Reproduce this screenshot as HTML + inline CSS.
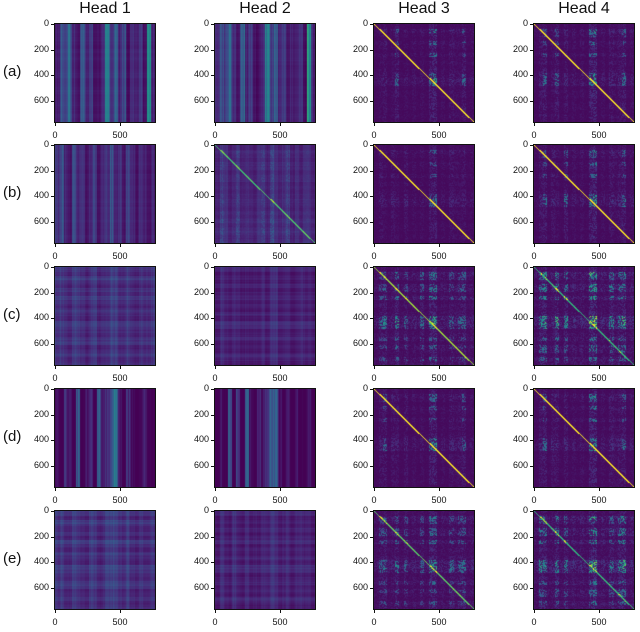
<!DOCTYPE html>
<html><head><meta charset="utf-8">
<style>
body{margin:0;background:#fff;width:640px;height:632px;position:relative;overflow:hidden;font-family:"Liberation Sans",sans-serif}
.t{position:absolute;font-size:16px;color:#111;text-align:center;width:100px}
.rl{position:absolute;font-size:15px;color:#111;left:3px}
.tk{position:absolute;font-size:9px;color:#111}
canvas{position:absolute;outline:1px solid #111}
.tm{position:absolute;background:#111}
</style></head><body>
<div id="root"></div>
<script>
// Each panel: column profile, row profile (24 bins, 0-9), diagonal strength, weights
const colProfiles = [
 [3,5,4,6,3,2,5,3,4,2,2,3,7,4,6,3,5,2,3,3,4,2,8,3],
 [3,5,4,6,3,2,6,3,4,2,2,3,7,4,6,3,4,2,3,3,4,2,9,3],
 [1,2,3,1,2,4,1,2,1,2,1,2,1,5,6,1,2,1,3,2,2,4,1,2],
 [1,3,4,1,2,4,1,3,1,2,1,2,1,5,6,1,2,1,3,2,3,4,1,2],
 [4,6,3,2,5,3,4,2,3,5,2,3,4,6,3,4,2,5,3,2,4,3,2,3],
 [2,4,3,2,3,4,2,3,2,2,3,4,2,5,3,2,3,4,2,3,2,3,3,2],
 [1,3,2,1,3,2,1,3,1,2,1,2,1,4,5,1,2,1,3,2,2,3,1,2],
 [1,3,4,1,3,2,1,4,1,2,1,2,1,5,6,1,2,1,3,2,3,4,1,2],
 [4,5,3,2,5,4,3,2,4,5,2,3,4,6,5,3,3,5,3,2,4,3,3,4],
 [2,5,3,2,4,3,2,3,2,3,2,4,2,5,5,2,3,4,2,3,4,3,3,2],
 [2,4,5,2,3,6,2,4,2,3,2,5,2,6,7,2,3,2,4,3,4,5,2,3],
 [2,5,6,2,3,6,2,5,2,3,2,3,2,7,7,2,3,2,5,3,5,6,2,3],
 [3,2,4,3,2,6,2,3,4,2,6,3,4,7,8,3,2,4,3,2,3,4,3,2],
 [2,3,2,6,2,5,2,6,3,2,4,3,5,7,6,3,2,3,2,3,2,2,3,2],
 [1,3,4,1,3,3,1,3,1,2,1,2,1,5,6,1,2,1,3,2,3,4,1,2],
 [1,3,4,1,3,3,1,3,1,2,1,2,1,5,6,1,2,1,3,2,3,4,1,2],
 [4,6,3,3,5,4,3,2,5,4,2,3,5,6,5,4,3,5,3,2,4,3,3,4],
 [2,5,3,2,5,3,2,4,2,3,2,4,3,5,5,2,3,4,2,4,4,3,3,2],
 [2,4,5,2,3,5,2,4,2,3,2,4,2,6,6,2,3,2,4,3,4,5,2,3],
 [2,5,5,2,3,5,2,4,2,3,2,3,2,6,7,2,3,2,4,3,5,6,2,3]
];
const rowProfiles = [
 [3,4,3,4,3,2,4,3,4,3,2,3,4,2,2,3,4,3,3,4,3,3,4,3],
 [3,4,3,4,3,2,4,3,4,3,2,3,4,2,2,3,4,3,3,4,3,3,4,3],
 [2,5,3,2,4,3,2,4,2,3,2,3,4,6,5,2,3,3,2,3,3,2,3,2],
 [2,5,4,2,4,3,2,4,2,3,2,3,5,6,6,2,3,3,2,3,3,2,3,2],
 [3,4,3,3,4,3,2,4,3,3,4,3,3,4,3,4,3,3,4,3,3,3,4,3],
 [3,5,4,3,5,4,3,4,5,3,4,3,4,5,4,3,5,4,6,4,5,6,4,5],
 [2,5,3,2,4,3,2,4,2,3,2,3,4,6,5,2,3,3,2,3,3,2,3,2],
 [2,5,4,2,4,3,2,4,2,3,2,3,5,6,6,2,3,3,2,3,3,2,3,2],
 [5,3,6,4,3,5,3,6,4,3,5,4,3,6,5,4,3,5,6,3,4,5,3,4],
 [5,3,4,3,5,3,4,5,3,4,3,5,3,6,5,3,4,5,3,4,3,5,4,3],
 [2,5,4,2,4,5,2,5,2,3,2,3,6,7,6,2,3,4,2,4,3,2,4,3],
 [2,6,4,2,5,5,2,5,2,3,2,3,7,7,6,2,3,4,2,4,4,2,4,3],
 [3,3,3,3,3,3,3,3,3,3,3,3,3,3,3,3,3,3,3,3,3,3,3,3],
 [3,3,3,3,3,3,3,3,3,3,3,3,3,3,3,3,3,3,3,3,3,3,3,3],
 [2,5,4,2,4,3,2,4,2,3,2,3,5,6,6,2,3,3,2,3,3,2,3,2],
 [2,5,4,2,4,3,2,4,2,3,2,3,5,6,6,2,3,3,2,3,3,2,3,2],
 [5,3,6,4,3,5,3,6,4,3,5,4,3,6,5,4,3,5,6,3,4,5,3,4],
 [5,3,4,3,5,3,4,5,3,4,3,5,3,6,5,3,4,5,3,4,3,5,4,3],
 [2,5,4,2,4,5,2,5,2,3,2,3,6,7,6,2,3,4,2,4,3,2,4,3],
 [2,6,4,2,5,5,2,5,2,3,2,3,7,7,6,2,3,4,2,4,4,2,4,3]
];
const diagStrength = [0,0,1,1, 0,0.6,1,1, 0,0,0.8,0.6, 0,0,1,1, 0,0,0.7,0.6];
const baseLevel = [-0.12,-0.12,0,0, -0.08,-0.05,0,0, -0.06,-0.06,0,0, -0.15,-0.15,0,0, -0.06,-0.06,0,0];
const colWeight = [0.6,0.6,0.0,0.0, 0.45,0.3,0.0,0.0, 0.24,0.2,0.0,0.0, 0.6,0.6,0.0,0.0, 0.24,0.2,0.0,0.0];
const rowWeight = [0.08,0.08,0.0,0.0, 0.08,0.1,0.0,0.0, 0.22,0.2,0.0,0.0, 0.0,0.0,0.0,0.0, 0.22,0.2,0.0,0.0];
const prodWeight = [0,0,1.5,1.6, 0,0.35,1.4,1.6, 0,0,1.3,1.5, 0,0,1.4,1.6, 0,0,1.3,1.5];
const heads = ["Head 1","Head 2","Head 3","Head 4"];
const rowLabels = ["(a)","(b)","(c)","(d)","(e)"];
const yTicks = [0,200,400,600];
const xTicks = [0,500];
const N = 768;

const colX=[55,215,374,534], rowY=[24,145,267,389,511], W=100, H=98;
const vir=[[68,1,84],[72,40,120],[62,74,137],[49,104,142],[38,130,142],[31,158,137],[53,183,121],[109,205,89],[180,222,44],[253,231,37]];
function rgb(v){v=Math.max(0,Math.min(1,v))*9;const i=Math.min(8,Math.floor(v)),f=v-i;const a=vir[i],b=vir[i+1];return a.map((x,k)=>Math.round(x+(b[k]-x)*f));}
function hash(i,j,s){let h=(i*374761393+j*668265263+s*982451653)|0;h=(h^(h>>>13))*1274126177|0;return ((h^(h>>>16))>>>0)/4294967296;}
const root=document.getElementById('root');
function add(tag,cls,txt,st,name){const e=document.createElement(tag);if(cls)e.className=cls;if(txt!=null)e.textContent=txt;Object.assign(e.style,st);root.appendChild(e);


return e;}
heads.forEach((h,c)=>add('div','t',h,{left:colX[c]+'px',top:'0px'},'column-title-head-'+(c+1)));
rowLabels.forEach((l,r)=>add('div','rl',l,{top:(rowY[r]+H/2-10)+'px'},'row-label-'+l.replace(/[()]/g,'')));
for(let r=0;r<5;r++)for(let c=0;c<4;c++){
 const p=r*4+c, cp=colProfiles[p], rp=rowProfiles[p], n=cp.length;
 const cv=add('canvas',null,null,{left:colX[c]+'px',top:rowY[r]+'px',width:W+'px',height:H+'px'},'heatmap-'+rowLabels[r].replace(/[()]/g,'')+'-head-'+(c+1));
 cv.width=W;cv.height=H;const g=cv.getContext('2d');const img=g.createImageData(W,H);
 for(let y=0;y<H;y++)for(let x=0;x<W;x++){
  const ci=Math.min(n-1,Math.floor(x/W*n)), ri=Math.min(n-1,Math.floor(y/H*n));
  const a=cp[ci]/9, b=rp[ri]/9;
  const fine=0.75+0.5*hash(x,0,p);
  let v=baseLevel[p]+colWeight[p]*a*fine+rowWeight[p]*b*(0.8+0.4*hash(0,y,p));
  if(prodWeight[p]>0){const hh=hash(x,y,p);v+=0.02+prodWeight[p]*a*b*(hh>0.45?hh:0.1)*(a>0.4&&b>0.4?1:0.45);}
  if(Math.abs(x-y*W/H)<0.9)v+=diagStrength[p];
  const col=rgb(v),k=(y*W+x)*4;img.data[k]=col[0];img.data[k+1]=col[1];img.data[k+2]=col[2];img.data[k+3]=255;
 }
 g.putImageData(img,0,0);
 yTicks.forEach(t=>{const y=Math.round(rowY[r]+t/N*H);
  add('div','tm',null,{left:(colX[c]-4)+'px',top:y+'px',width:'4px',height:'1px'},'y-tick-mark');
  add('div','tk',String(t),{left:(colX[c]-28)+'px',top:(y-6)+'px',width:'22px',textAlign:'right'},'y-tick-label');});
 xTicks.forEach(t=>{const x=Math.round(colX[c]+t/N*W);
  add('div','tm',null,{left:x+'px',top:(rowY[r]+H)+'px',width:'1px',height:'4px'},'x-tick-mark');
  add('div','tk',String(t),{left:(x-15)+'px',top:(rowY[r]+H+8)+'px',width:'30px',textAlign:'center'},'x-tick-label');});
}
</script>
</body></html>
